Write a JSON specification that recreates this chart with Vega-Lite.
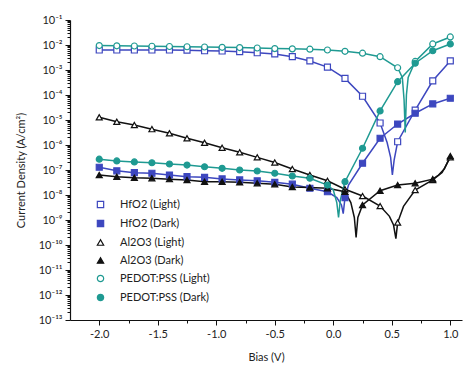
{
  "$schema": "https://vega.github.io/schema/vega-lite/v6.json",
  "width": 392,
  "height": 300,
  "autosize": "none",
  "padding": {"left": 70, "top": 20, "right": 8, "bottom": 47},
  "background": "white",
  "config": {
    "view": {"stroke": null},
    "font": "Lato",
    "axis": {"grid": false, "domainColor": "#111", "tickColor": "#111", "labelColor": "#222", "titleColor": "#222", "labelFont": "Lato", "titleFont": "Lato", "labelFontSize": 11, "titleFontSize": 11, "titleFontWeight": "normal", "domainWidth": 1.2, "tickWidth": 1}
  },
  "datasets": {
    "curves": [
      {"series": "HfO2 (Light)", "bias": -2.0, "J": 6.3e-3},
      {"series": "HfO2 (Light)", "bias": -1.85, "J": 6.3e-3},
      {"series": "HfO2 (Light)", "bias": -1.7, "J": 6.3e-3},
      {"series": "HfO2 (Light)", "bias": -1.55, "J": 6.3e-3},
      {"series": "HfO2 (Light)", "bias": -1.4, "J": 6.3e-3},
      {"series": "HfO2 (Light)", "bias": -1.25, "J": 6.2e-3},
      {"series": "HfO2 (Light)", "bias": -1.1, "J": 5.9e-3},
      {"series": "HfO2 (Light)", "bias": -0.95, "J": 5.75e-3},
      {"series": "HfO2 (Light)", "bias": -0.8, "J": 5.4e-3},
      {"series": "HfO2 (Light)", "bias": -0.65, "J": 4.9e-3},
      {"series": "HfO2 (Light)", "bias": -0.5, "J": 4.4e-3},
      {"series": "HfO2 (Light)", "bias": -0.35, "J": 3.4e-3},
      {"series": "HfO2 (Light)", "bias": -0.2, "J": 2.3e-3},
      {"series": "HfO2 (Light)", "bias": -0.05, "J": 1.3e-3},
      {"series": "HfO2 (Light)", "bias": 0.1, "J": 4.6e-4},
      {"series": "HfO2 (Light)", "bias": 0.25, "J": 8.9e-5},
      {"series": "HfO2 (Light)", "bias": 0.4, "J": 7.6e-6},
      {"series": "HfO2 (Light)", "bias": 0.46, "J": 1.26e-6},
      {"series": "HfO2 (Light)", "bias": 0.49, "J": 3.2e-7},
      {"series": "HfO2 (Light)", "bias": 0.505, "J": 6.3e-8},
      {"series": "HfO2 (Light)", "bias": 0.52, "J": 2.5e-7},
      {"series": "HfO2 (Light)", "bias": 0.55, "J": 1.35e-6},
      {"series": "HfO2 (Light)", "bias": 0.7, "J": 2.5e-5},
      {"series": "HfO2 (Light)", "bias": 0.85, "J": 3.7e-4},
      {"series": "HfO2 (Light)", "bias": 1.0, "J": 2.3e-3},

      {"series": "HfO2 (Dark)", "bias": -2.0, "J": 1.29e-7},
      {"series": "HfO2 (Dark)", "bias": -1.85, "J": 9.3e-8},
      {"series": "HfO2 (Dark)", "bias": -1.7, "J": 7.8e-8},
      {"series": "HfO2 (Dark)", "bias": -1.55, "J": 7.4e-8},
      {"series": "HfO2 (Dark)", "bias": -1.4, "J": 6.3e-8},
      {"series": "HfO2 (Dark)", "bias": -1.25, "J": 5.4e-8},
      {"series": "HfO2 (Dark)", "bias": -1.1, "J": 5.1e-8},
      {"series": "HfO2 (Dark)", "bias": -0.95, "J": 4.4e-8},
      {"series": "HfO2 (Dark)", "bias": -0.8, "J": 4.0e-8},
      {"series": "HfO2 (Dark)", "bias": -0.65, "J": 3.7e-8},
      {"series": "HfO2 (Dark)", "bias": -0.5, "J": 3.2e-8},
      {"series": "HfO2 (Dark)", "bias": -0.35, "J": 2.7e-8},
      {"series": "HfO2 (Dark)", "bias": -0.2, "J": 1.86e-8},
      {"series": "HfO2 (Dark)", "bias": -0.05, "J": 1.35e-8},
      {"series": "HfO2 (Dark)", "bias": 0.03, "J": 7.9e-9},
      {"series": "HfO2 (Dark)", "bias": 0.07, "J": 4.0e-9},
      {"series": "HfO2 (Dark)", "bias": 0.085, "J": 1.8e-9},
      {"series": "HfO2 (Dark)", "bias": 0.1, "J": 7.9e-9},
      {"series": "HfO2 (Dark)", "bias": 0.13, "J": 2.5e-8},
      {"series": "HfO2 (Dark)", "bias": 0.25, "J": 1.86e-7},
      {"series": "HfO2 (Dark)", "bias": 0.4, "J": 1.86e-6},
      {"series": "HfO2 (Dark)", "bias": 0.55, "J": 6.9e-6},
      {"series": "HfO2 (Dark)", "bias": 0.7, "J": 1.86e-5},
      {"series": "HfO2 (Dark)", "bias": 0.85, "J": 4.4e-5},
      {"series": "HfO2 (Dark)", "bias": 1.0, "J": 7.4e-5},

      {"series": "Al2O3 (Light)", "bias": -2.0, "J": 1.29e-5},
      {"series": "Al2O3 (Light)", "bias": -1.85, "J": 8.5e-6},
      {"series": "Al2O3 (Light)", "bias": -1.7, "J": 6.3e-6},
      {"series": "Al2O3 (Light)", "bias": -1.55, "J": 4.3e-6},
      {"series": "Al2O3 (Light)", "bias": -1.4, "J": 2.95e-6},
      {"series": "Al2O3 (Light)", "bias": -1.25, "J": 1.86e-6},
      {"series": "Al2O3 (Light)", "bias": -1.1, "J": 1.23e-6},
      {"series": "Al2O3 (Light)", "bias": -0.95, "J": 7.8e-7},
      {"series": "Al2O3 (Light)", "bias": -0.8, "J": 5.1e-7},
      {"series": "Al2O3 (Light)", "bias": -0.65, "J": 3.2e-7},
      {"series": "Al2O3 (Light)", "bias": -0.5, "J": 2.0e-7},
      {"series": "Al2O3 (Light)", "bias": -0.35, "J": 1.1e-7},
      {"series": "Al2O3 (Light)", "bias": -0.2, "J": 6.3e-8},
      {"series": "Al2O3 (Light)", "bias": -0.05, "J": 3.7e-8},
      {"series": "Al2O3 (Light)", "bias": 0.1, "J": 1.7e-8},
      {"series": "Al2O3 (Light)", "bias": 0.25, "J": 9.1e-9},
      {"series": "Al2O3 (Light)", "bias": 0.4, "J": 3.6e-9},
      {"series": "Al2O3 (Light)", "bias": 0.48, "J": 1.4e-9},
      {"series": "Al2O3 (Light)", "bias": 0.515, "J": 6.3e-10},
      {"series": "Al2O3 (Light)", "bias": 0.535, "J": 1.8e-10},
      {"series": "Al2O3 (Light)", "bias": 0.55, "J": 7.9e-10},
      {"series": "Al2O3 (Light)", "bias": 0.6, "J": 3.5e-9},
      {"series": "Al2O3 (Light)", "bias": 0.7, "J": 1.58e-8},
      {"series": "Al2O3 (Light)", "bias": 0.85, "J": 4.0e-8},
      {"series": "Al2O3 (Light)", "bias": 0.93, "J": 7.9e-8},
      {"series": "Al2O3 (Light)", "bias": 1.0, "J": 3.2e-7},

      {"series": "Al2O3 (Dark)", "bias": -2.0, "J": 6.3e-8},
      {"series": "Al2O3 (Dark)", "bias": -1.85, "J": 5.4e-8},
      {"series": "Al2O3 (Dark)", "bias": -1.7, "J": 4.9e-8},
      {"series": "Al2O3 (Dark)", "bias": -1.55, "J": 4.7e-8},
      {"series": "Al2O3 (Dark)", "bias": -1.4, "J": 4.3e-8},
      {"series": "Al2O3 (Dark)", "bias": -1.25, "J": 4.0e-8},
      {"series": "Al2O3 (Dark)", "bias": -1.1, "J": 3.4e-8},
      {"series": "Al2O3 (Dark)", "bias": -0.95, "J": 3.4e-8},
      {"series": "Al2O3 (Dark)", "bias": -0.8, "J": 3.2e-8},
      {"series": "Al2O3 (Dark)", "bias": -0.65, "J": 2.95e-8},
      {"series": "Al2O3 (Dark)", "bias": -0.5, "J": 2.7e-8},
      {"series": "Al2O3 (Dark)", "bias": -0.35, "J": 2.1e-8},
      {"series": "Al2O3 (Dark)", "bias": -0.2, "J": 2.0e-8},
      {"series": "Al2O3 (Dark)", "bias": -0.05, "J": 1.86e-8},
      {"series": "Al2O3 (Dark)", "bias": 0.1, "J": 1.35e-8},
      {"series": "Al2O3 (Dark)", "bias": 0.15, "J": 5.0e-9},
      {"series": "Al2O3 (Dark)", "bias": 0.18, "J": 1.26e-9},
      {"series": "Al2O3 (Dark)", "bias": 0.195, "J": 2.0e-10},
      {"series": "Al2O3 (Dark)", "bias": 0.21, "J": 1.26e-9},
      {"series": "Al2O3 (Dark)", "bias": 0.25, "J": 4.0e-9},
      {"series": "Al2O3 (Dark)", "bias": 0.4, "J": 1.48e-8},
      {"series": "Al2O3 (Dark)", "bias": 0.55, "J": 2.5e-8},
      {"series": "Al2O3 (Dark)", "bias": 0.7, "J": 2.95e-8},
      {"series": "Al2O3 (Dark)", "bias": 0.85, "J": 4.3e-8},
      {"series": "Al2O3 (Dark)", "bias": 0.9, "J": 6.3e-8},
      {"series": "Al2O3 (Dark)", "bias": 0.95, "J": 1.12e-7},
      {"series": "Al2O3 (Dark)", "bias": 1.0, "J": 3.6e-7},

      {"series": "PEDOT:PSS (Light)", "bias": -2.0, "J": 9.5e-3},
      {"series": "PEDOT:PSS (Light)", "bias": -1.85, "J": 9.3e-3},
      {"series": "PEDOT:PSS (Light)", "bias": -1.7, "J": 9.1e-3},
      {"series": "PEDOT:PSS (Light)", "bias": -1.55, "J": 8.9e-3},
      {"series": "PEDOT:PSS (Light)", "bias": -1.4, "J": 8.7e-3},
      {"series": "PEDOT:PSS (Light)", "bias": -1.25, "J": 8.5e-3},
      {"series": "PEDOT:PSS (Light)", "bias": -1.1, "J": 8.3e-3},
      {"series": "PEDOT:PSS (Light)", "bias": -0.95, "J": 8.1e-3},
      {"series": "PEDOT:PSS (Light)", "bias": -0.8, "J": 7.9e-3},
      {"series": "PEDOT:PSS (Light)", "bias": -0.65, "J": 7.6e-3},
      {"series": "PEDOT:PSS (Light)", "bias": -0.5, "J": 7.2e-3},
      {"series": "PEDOT:PSS (Light)", "bias": -0.35, "J": 7.0e-3},
      {"series": "PEDOT:PSS (Light)", "bias": -0.2, "J": 6.8e-3},
      {"series": "PEDOT:PSS (Light)", "bias": -0.05, "J": 6.3e-3},
      {"series": "PEDOT:PSS (Light)", "bias": 0.1, "J": 5.6e-3},
      {"series": "PEDOT:PSS (Light)", "bias": 0.25, "J": 4.7e-3},
      {"series": "PEDOT:PSS (Light)", "bias": 0.4, "J": 3.4e-3},
      {"series": "PEDOT:PSS (Light)", "bias": 0.55, "J": 1.23e-3},
      {"series": "PEDOT:PSS (Light)", "bias": 0.59, "J": 5.0e-4},
      {"series": "PEDOT:PSS (Light)", "bias": 0.605, "J": 6.3e-5},
      {"series": "PEDOT:PSS (Light)", "bias": 0.615, "J": 3.2e-6},
      {"series": "PEDOT:PSS (Light)", "bias": 0.625, "J": 1.0e-4},
      {"series": "PEDOT:PSS (Light)", "bias": 0.64, "J": 5.0e-4},
      {"series": "PEDOT:PSS (Light)", "bias": 0.7, "J": 2.2e-3},
      {"series": "PEDOT:PSS (Light)", "bias": 0.85, "J": 1.1e-2},
      {"series": "PEDOT:PSS (Light)", "bias": 1.0, "J": 2.1e-2},

      {"series": "PEDOT:PSS (Dark)", "bias": -2.0, "J": 2.7e-7},
      {"series": "PEDOT:PSS (Dark)", "bias": -1.85, "J": 2.3e-7},
      {"series": "PEDOT:PSS (Dark)", "bias": -1.7, "J": 2.1e-7},
      {"series": "PEDOT:PSS (Dark)", "bias": -1.55, "J": 1.95e-7},
      {"series": "PEDOT:PSS (Dark)", "bias": -1.4, "J": 1.74e-7},
      {"series": "PEDOT:PSS (Dark)", "bias": -1.25, "J": 1.58e-7},
      {"series": "PEDOT:PSS (Dark)", "bias": -1.1, "J": 1.35e-7},
      {"series": "PEDOT:PSS (Dark)", "bias": -0.95, "J": 1.17e-7},
      {"series": "PEDOT:PSS (Dark)", "bias": -0.8, "J": 1.0e-7},
      {"series": "PEDOT:PSS (Dark)", "bias": -0.65, "J": 9.1e-8},
      {"series": "PEDOT:PSS (Dark)", "bias": -0.5, "J": 7.4e-8},
      {"series": "PEDOT:PSS (Dark)", "bias": -0.35, "J": 5.75e-8},
      {"series": "PEDOT:PSS (Dark)", "bias": -0.2, "J": 4.7e-8},
      {"series": "PEDOT:PSS (Dark)", "bias": -0.05, "J": 2.5e-8},
      {"series": "PEDOT:PSS (Dark)", "bias": 0.0, "J": 1.58e-8},
      {"series": "PEDOT:PSS (Dark)", "bias": 0.03, "J": 5.0e-9},
      {"series": "PEDOT:PSS (Dark)", "bias": 0.045, "J": 1.26e-9},
      {"series": "PEDOT:PSS (Dark)", "bias": 0.06, "J": 6.3e-9},
      {"series": "PEDOT:PSS (Dark)", "bias": 0.1, "J": 3.4e-8},
      {"series": "PEDOT:PSS (Dark)", "bias": 0.25, "J": 7.4e-7},
      {"series": "PEDOT:PSS (Dark)", "bias": 0.4, "J": 2.3e-5},
      {"series": "PEDOT:PSS (Dark)", "bias": 0.55, "J": 3.4e-4},
      {"series": "PEDOT:PSS (Dark)", "bias": 0.7, "J": 1.86e-3},
      {"series": "PEDOT:PSS (Dark)", "bias": 0.85, "J": 5.9e-3},
      {"series": "PEDOT:PSS (Dark)", "bias": 1.0, "J": 1.1e-2}
    ]
  },
  "data": {"name": "curves"},
  "encoding": {
    "x": {
      "field": "bias", "type": "quantitative",
      "scale": {"domain": [-2.25, 1.1], "nice": false, "zero": false},
      "axis": {
        "title": "Bias (V)",
        "values": [-2.0, -1.75, -1.5, -1.25, -1.0, -0.75, -0.5, -0.25, 0.0, 0.25, 0.5, 0.75, 1.0],
        "labelExpr": "abs(datum.value*2 - round(datum.value*2)) > 0.01 ? '' : (datum.value < -0.001 ? '-' : '') + format(abs(datum.value), '.1f')",
        "tickSize": {"condition": {"test": "abs(datum.value*2 - round(datum.value*2)) > 0.01", "value": 3}, "value": 5},
        "labelPadding": 3,
        "titlePadding": 12,
        "labelOverlap": false
      }
    },
    "y": {
      "field": "J", "type": "quantitative",
      "scale": {"type": "log", "domain": [1e-13, 1e-1], "nice": false},
      "axis": {
        "title": "Current Density (A/cm²)",
        "tickCount": 200,
        "labelOverlap": false,
        "labelExpr": "abs(log(datum.value)/LN10 - round(log(datum.value)/LN10)) > 0.01 ? '' : '10⁻' + (round(-log(datum.value)/LN10) >= 10 ? '¹' + substring('⁰¹²³⁴⁵⁶⁷⁸⁹', round(-log(datum.value)/LN10) - 10, round(-log(datum.value)/LN10) - 9) : substring('⁰¹²³⁴⁵⁶⁷⁸⁹', round(-log(datum.value)/LN10), round(-log(datum.value)/LN10) + 1))",
        "tickSize": {"condition": {"test": "abs(log(datum.value)/LN10 - round(log(datum.value)/LN10)) > 0.01", "value": 3}, "value": 5},
        "labelPadding": 3,
        "titlePadding": 12
      }
    }
  },
  "layer": [
    {
      "mark": {"type": "line", "strokeWidth": 1.5},
      "encoding": {
        "color": {
          "field": "series", "type": "nominal", "legend": null,
          "scale": {
            "domain": ["PEDOT:PSS (Dark)", "PEDOT:PSS (Light)", "Al2O3 (Dark)", "Al2O3 (Light)", "HfO2 (Dark)", "HfO2 (Light)"],
            "range": ["#1f9a92", "#1f9a92", "#111111", "#111111", "#3d47bf", "#3d47bf"]
          }
        }
      }
    },
    {
      "transform": [{"filter": {"field": "bias", "oneOf": [-2.0, -1.85, -1.7, -1.55, -1.4, -1.25, -1.1, -0.95, -0.8, -0.65, -0.5, -0.35, -0.2, -0.05, 0.1, 0.25, 0.4, 0.55, 0.7, 0.85, 1.0]}}],
      "mark": {"type": "point", "filled": true, "size": 36, "strokeWidth": 1.2, "opacity": 1},
      "encoding": {
        "stroke": {
          "field": "series", "type": "nominal", "title": null,
          "scale": {
            "domain": ["HfO2 (Light)", "HfO2 (Dark)", "Al2O3 (Light)", "Al2O3 (Dark)", "PEDOT:PSS (Light)", "PEDOT:PSS (Dark)"],
            "range": ["#3d47bf", "#3d47bf", "#111111", "#111111", "#1f9a92", "#1f9a92"]
          },
          "legend": {"orient": "none", "legendX": 25, "legendY": 179, "symbolSize": 40, "symbolStrokeWidth": 1.2, "symbolOpacity": 1, "labelFont": "Lato", "labelFontSize": 11, "labelColor": "#222", "labelOffset": 14, "rowPadding": 6}
        },
        "fill": {
          "field": "series", "type": "nominal", "title": null,
          "scale": {
            "domain": ["HfO2 (Light)", "HfO2 (Dark)", "Al2O3 (Light)", "Al2O3 (Dark)", "PEDOT:PSS (Light)", "PEDOT:PSS (Dark)"],
            "range": ["#ffffff", "#3d47bf", "#ffffff", "#111111", "#ffffff", "#1f9a92"]
          },
          "legend": {"orient": "none", "legendX": 25, "legendY": 179, "symbolSize": 40, "symbolStrokeWidth": 1.2, "symbolOpacity": 1, "labelFont": "Lato", "labelFontSize": 11, "labelColor": "#222", "labelOffset": 14, "rowPadding": 6}
        },
        "shape": {
          "field": "series", "type": "nominal", "title": null,
          "scale": {
            "domain": ["HfO2 (Light)", "HfO2 (Dark)", "Al2O3 (Light)", "Al2O3 (Dark)", "PEDOT:PSS (Light)", "PEDOT:PSS (Dark)"],
            "range": ["square", "square", "triangle-up", "triangle-up", "circle", "circle"]
          },
          "legend": {"orient": "none", "legendX": 25, "legendY": 179, "symbolSize": 40, "symbolStrokeWidth": 1.2, "symbolOpacity": 1, "labelFont": "Lato", "labelFontSize": 11, "labelColor": "#222", "labelOffset": 14, "rowPadding": 6}
        }
      }
    }
  ]
}
